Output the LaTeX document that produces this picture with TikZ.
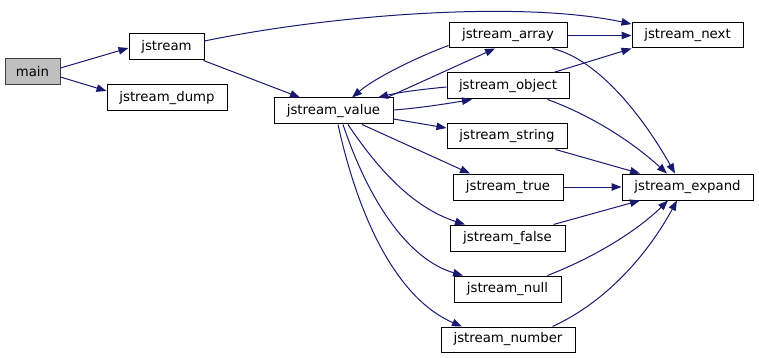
\documentclass[tikz,border=0pt]{standalone}
\usepackage{fontspec}
\setmainfont{DejaVu Sans}
\usetikzlibrary{arrows.meta}
\definecolor{edgeblue}{HTML}{191970}
\definecolor{rootfill}{HTML}{BFBFBF}
\definecolor{rootline}{HTML}{404040}
\begin{document}
\begin{tikzpicture}[x=1pt,y=-1pt,
  fn/.style={draw=black,line width=1pt,fill=white,inner sep=0pt,minimum height=26pt,
    font=\fontsize{13.3}{16}\selectfont},
  rootfn/.style={fn,fill=rootfill,draw=rootline},
  call/.style={draw=edgeblue,line width=1pt,-{Triangle[length=10pt,width=7.5pt]},fill=none},
]
\useasboundingbox (0,0) rectangle (759,358);

% functions
\node[rootfn,minimum width=55pt]  (main)   at (32.5,72)  {main};
\node[fn,minimum width=75pt]      (js)     at (166.5,47) {jstream};
\node[fn,minimum width=120pt]     (dump)   at (167,98)   {jstream\_dump};
\node[fn,minimum width=119pt]     (value)  at (333.5,111){jstream\_value};
\node[fn,minimum width=118pt,minimum height=25pt] (array)  at (508,35.5) {jstream\_array};
\node[fn,minimum width=122pt]     (object) at (508,86)   {jstream\_object};
\node[fn,minimum width=120pt,minimum height=25pt] (string) at (507,136.5){jstream\_string};
\node[fn,minimum width=111pt,minimum height=25pt] (next)   at (687.5,35.5){jstream\_next};
\node[fn,minimum width=131pt]     (expand) at (687.5,187){jstream\_expand};
\node[fn,minimum width=110pt]     (true)   at (508,187)  {jstream\_true};
\node[fn,minimum width=115pt]     (false)  at (507.5,238){jstream\_false};
\node[fn,minimum width=107pt]     (null)   at (507.5,289){jstream\_null};
\node[fn,minimum width=134pt,minimum height=25pt] (number) at (508,339.5){jstream\_number};

% calls from main and jstream
\draw[call] ([yshift=4pt]main.east) -- ([yshift=-1pt]js.west);
\draw[call] ([yshift=-5pt]main.east) -- ([yshift=7pt]dump.west);
\draw[call] ([yshift=6pt]js.east) .. controls (330,15) and (520,0) .. ([yshift=11.5pt]next.west);
\draw[call] ([xshift=-1pt]js.south east) -- ([xshift=-33.5pt]value.north);

% jstream_value and its callees
\draw[call] ([xshift=53.5pt]value.north) -- ([xshift=-13pt]array.south);
\draw[call] ([yshift=3pt]array.south west) .. controls (415,58) and (375,78) .. ([xshift=18.5pt]value.north);
\draw[call] ([yshift=1pt]value.east) .. controls (420,108) and (445,104) .. ([xshift=-36pt]object.south);
\draw[call] ([yshift=-1pt]object.west) .. controls (425,89) and (400,92) .. ([xshift=44.5pt]value.north);
\draw[call] ([yshift=-8pt]value.east) -- ([yshift=8.5pt]string.west);
\draw[call] ([xshift=28.5pt]value.south) -- ([xshift=-38pt]true.north);
\draw[call] ([xshift=14.5pt]value.south) .. controls (385,180) and (420,210) .. ([xshift=-42.5pt]false.north);
\draw[call] ([xshift=9.5pt]value.south) .. controls (370,205) and (410,260) .. ([xshift=-44.5pt]null.north);
\draw[call] ([xshift=4.5pt]value.south) .. controls (360,225) and (400,300) .. ([xshift=-46pt]number.north);

% calls into jstream_next and jstream_expand
\draw[call] (array.east) -- (next.west);
\draw[call] ([xshift=-15pt]array.south east) .. controls (600,60) and (645,120) .. ([xshift=-12.5pt]expand.north);
\draw[call] ([xshift=-16pt]object.north east) -- (next.south west);
\draw[call] ([xshift=-22pt]object.south east) .. controls (590,115) and (630,140) .. ([xshift=-20.5pt]expand.north);
\draw[call] ([xshift=-12pt]string.south east) -- ([xshift=-47.5pt]expand.north);
\draw[call] (true.east) -- (expand.west);
\draw[call] ([xshift=-12pt]false.north east) -- ([xshift=-47.5pt]expand.south);
\draw[call] ([xshift=-14pt]null.north east) .. controls (600,255) and (640,228) .. ([xshift=-19.5pt]expand.south);
\draw[call] ([xshift=-23pt]number.north east) .. controls (610,300) and (650,250) .. ([xshift=-10.5pt]expand.south);
\end{tikzpicture}
\end{document}
